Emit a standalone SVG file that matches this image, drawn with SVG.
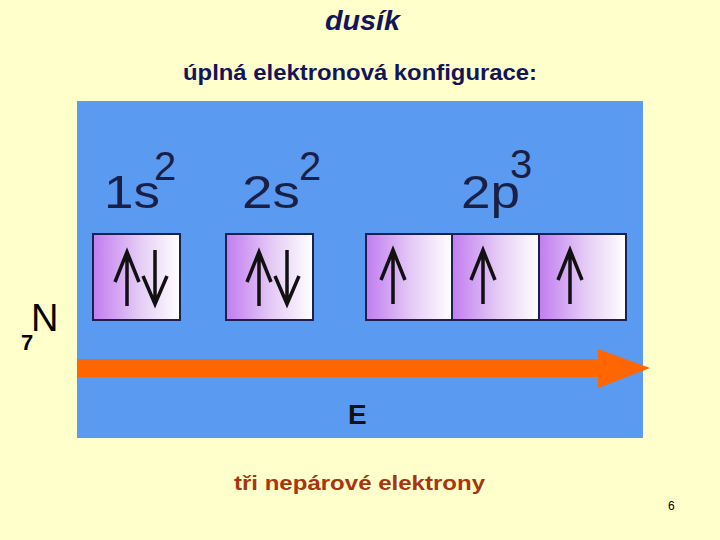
<svg xmlns="http://www.w3.org/2000/svg" width="720" height="540" viewBox="0 0 720 540">
<style>
.t{font-family:"Liberation Sans",Arial,sans-serif;fill:#14145a;font-weight:bold}
.orb{font-family:"Liberation Sans",Arial,sans-serif;fill:#1a2045}
.sup{font-family:"Liberation Sans",Arial,sans-serif;fill:#1a2045;font-size:40px}
.box{fill:url(#g);stroke:#1a2050;stroke-width:2}
.ar{fill:none;stroke:#111;stroke-width:3.5;stroke-linejoin:miter}
</style>
<defs>
<linearGradient id="g" x1="0" y1="0" x2="1" y2="0">
<stop offset="0" stop-color="#c27cf0"/>
<stop offset="0.55" stop-color="#e6cdf6"/>
<stop offset="1" stop-color="#ffffff"/>
</linearGradient>
<g id="up"><path class="ar" d="M0,54 V0 M-12,30 L0,0 L12,30"/></g>
<g id="down"><path class="ar" d="M0,0 V54 M-12,26 L0,54 L12,26"/></g>
</defs>
<rect width="720" height="540" fill="#ffffcc"/>
<text class="t" x="325" y="30" font-size="27" font-style="italic" textLength="75" lengthAdjust="spacingAndGlyphs">dusík</text>
<text class="t" x="183" y="80" font-size="22" textLength="354" lengthAdjust="spacingAndGlyphs">úplná elektronová konfigurace:</text>
<rect x="77" y="101" width="566" height="337" fill="#5a9af0"/>
<g id="labels">
<text class="orb" x="104" y="208" font-size="47" textLength="56" lengthAdjust="spacingAndGlyphs">1s</text>
<text class="sup" x="154" y="180">2</text>
<text class="orb" x="242" y="208" font-size="47" textLength="58" lengthAdjust="spacingAndGlyphs">2s</text>
<text class="sup" x="299" y="180">2</text>
<text class="orb" x="461" y="208" font-size="47" textLength="59" lengthAdjust="spacingAndGlyphs">2p</text>
<text class="sup" x="510" y="178">3</text>
</g>
<g id="orb1s"><rect class="box" x="93" y="234" width="87" height="86"/><use href="#up" x="127" y="252"/><use href="#down" x="155" y="250"/></g>
<g id="orb2s"><rect class="box" x="226" y="234" width="87" height="86"/><use href="#up" x="259" y="252"/><use href="#down" x="287" y="250"/></g>
<g id="orb2p1"><rect class="box" x="366" y="234" width="86" height="86"/><use href="#up" x="393" y="250"/></g>
<g id="orb2p2"><rect class="box" x="452" y="234" width="87" height="86"/><use href="#up" x="483" y="250"/></g>
<g id="orb2p3"><rect class="box" x="539" y="234" width="87" height="86"/><use href="#up" x="570" y="250"/></g>
<g id="connectors">
<path d="M77,359 H598 V349 L650,368 L598,388 V377 H77 Z" fill="#ff6600"/>
</g>
<text x="348" y="424" font-family="Liberation Sans,Arial,sans-serif" font-size="28" font-weight="bold" fill="#111">E</text>
<text x="31" y="331" font-family="Liberation Sans,Arial,sans-serif" font-size="38" fill="#000">N</text>
<text x="21" y="350" font-family="Liberation Sans,Arial,sans-serif" font-size="22" font-weight="bold" fill="#000">7</text>
<text x="234" y="490" font-family="Liberation Sans,Arial,sans-serif" font-size="21" font-weight="bold" fill="#a8350f" textLength="251" lengthAdjust="spacingAndGlyphs">tři nepárové elektrony</text>
<text x="668" y="510" font-family="Liberation Sans,Arial,sans-serif" font-size="12" fill="#000">6</text>
</svg>
